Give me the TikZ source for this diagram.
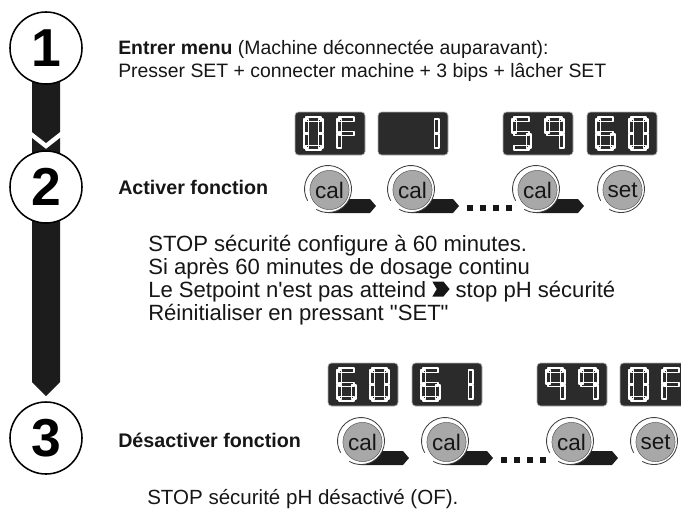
\documentclass[tikz,border=0pt]{standalone}
\usepackage{fontspec}
\defaultfontfeatures[\rmfamily]{}
\setmainfont{Liberation Sans}
\usetikzlibrary{calc}
\definecolor{lcdbg}{HTML}{2B2B2B}
\definecolor{btngray}{HTML}{A8A8A8}
\definecolor{bardark}{HTML}{1C1C1C}
\definecolor{ink}{HTML}{161616}

% segments of one lcd digit, top left at (0,0), y pointing down
\newcommand\sega{(2,0) rectangle (17,4.5)}
\newcommand\segb{(14.5,2) rectangle (19,16)}
\newcommand\segc{(14.5,17) rectangle (19,31)}
\newcommand\segd{(2,28.5) rectangle (17,33)}
\newcommand\sege{(0,17) rectangle (4.5,31)}
\newcommand\segf{(0,2) rectangle (4.5,16)}
\newcommand\segg{(2,14.25) rectangle (17,18.75)}
\newcommand\segx{(0,0)}

\newcommand\lcddigit[3]{\foreach \s in {#3} {\draw[segline,shift={(#1,#2)}] \csname seg\s\endcsname;}}
% box of two digits: x, y of top left, left digit, right digit
\newcommand\lcd[4]{%
  \draw[lcdbox] (#1,#2) rectangle ++(70,43);
  \lcddigit{#1+9}{#2+5}{#3}
  \lcddigit{#1+42}{#2+5}{#4}}
% push button with tail: name, centre x, centre y
\newcommand\calbtn[3]{%
  \fill[bardark] (#2+10,#3+10) -- (#2+42,#3+10) -- (#2+48,#3+17) -- (#2+42,#3+24) -- (#2,#3+24) -- cycle;
  \fill[white] (#2,#3) circle[radius=23.5];
  \draw[ring] (#2,#3) ++(150:23.5) arc[start angle=150,end angle=480,radius=23.5];
  \node[btn] (#1) at (#2+1.5,#3+1) {cal};}
\newcommand\tailarrow{\tikz[baseline=0pt]\fill[ink] (0,0.02em) -- (0.5em,0.02em) -- (0.78em,0.36em) -- (0.5em,0.7em) -- (0,0.7em) -- (0.2em,0.36em) -- cycle;}

\begin{document}
\begin{tikzpicture}[x=0.025cm,y=-0.025cm,line join=round,
  stepcircle/.style={circle,draw,line width=1.1pt,fill=white,minimum size=1.8cm,inner sep=0pt,
    font=\fontsize{38}{38}\selectfont\bfseries},
  txt/.style={anchor=base west,inner sep=0pt,text=ink,font=\fontsize{13.8}{17}\selectfont},
  label/.style={txt,font=\fontsize{14}{17}\selectfont\bfseries},
  note/.style={txt,font=\fontsize{15.7}{19}\selectfont},
  lcdbox/.style={fill=lcdbg,draw=gray!60,line width=0.5pt,rounded corners=2.5pt},
  segline/.style={draw=white,line width=0.75pt},
  ring/.style={draw=gray!50!black,line width=0.6pt},
  btn/.style={circle,fill=btngray,draw=gray!60!black,line width=0.3pt,minimum size=0.98cm,inner sep=0pt,
    text=ink,font=\fontsize{16}{16}\selectfont}]
\useasboundingbox (0,0) rectangle (681,514);

\coordinate (c1) at (46,48);
\coordinate (c2) at (46,187);
\coordinate (c3) at (46,438);

% arrow bars between the steps
\fill[bardark] ($(c1)+(-14,0)$) -- ++(28,0) -- ++(0,84) -- ++(-14,11) -- ++(-14,-11) -- cycle;
\fill[bardark] ($(c2)+(-14,-49)$) -- ++(14,11) -- ++(14,-11) -- ($(c3)+(14,-56)$) -- ++(-14,14) -- ++(-14,-14) -- cycle;

\node[stepcircle] (n1) at (c1) {1};
\node[stepcircle] (n2) at (c2) {2};
\node[stepcircle] (n3) at (c3) {3};

% step 1
\node[txt] (t1) at (118,54) {\textbf{Entrer menu} (Machine déconnectée auparavant):};
\node[txt] (t2) at (118,77) {Presser SET + connecter machine + 3 bips + lâcher SET};

% step 2
\node[label] (t3) at (118,194) {Activer fonction};
\lcd{295}{112}{a,b,c,d,e,f}{a,e,f,g}
\lcd{378}{112}{x}{b,c}
\lcd{503}{112}{a,f,g,c,d}{a,b,c,f,g}
\lcd{587}{112}{a,f,g,e,c,d}{a,b,c,d,e,f}
\calbtn{b1}{328}{189}
\calbtn{b2}{411}{189}
\calbtn{b3}{536}{189}
\fill[white] (621,189) circle[radius=23.5];
\draw[ring] (621,189) ++(150:23.5) arc[start angle=150,end angle=480,radius=23.5];
\node[btn] (b4) at (622.5,190) {set};
\foreach \k in {0,...,3} \fill[ink] (467+13*\k,205) rectangle ++(6,6);

\node[note] (p1) at (148,251) {STOP sécurité configure à 60 minutes.};
\node[note] (p2) at (148,274) {Si après 60 minutes de dosage continu};
\node[note] (p3) at (148,297) {Le Setpoint n'est pas atteind \tailarrow\ stop pH sécurité};
\node[note] (p4) at (148,320) {Réinitialiser en pressant "SET"};

% step 3
\node[label] (t4) at (118,447) {Désactiver fonction};
\lcd{328}{363}{a,f,g,e,c,d}{a,b,c,d,e,f}
\lcd{412}{363}{a,f,g,e,c,d}{b,c}
\lcd{537}{363}{a,b,c,f,g}{a,b,c,f,g}
\lcd{620}{363}{a,b,c,d,e,f}{a,e,f,g}
\calbtn{b5}{361}{441}
\calbtn{b6}{445}{441}
\calbtn{b7}{570}{441}
\fill[white] (654,441) circle[radius=23.5];
\draw[ring] (654,441) ++(150:23.5) arc[start angle=150,end angle=480,radius=23.5];
\node[btn] (b8) at (655.5,442) {set};
\foreach \k in {0,...,3} \fill[ink] (501+13*\k,457) rectangle ++(6,6);

\node[txt,font=\fontsize{14.6}{17}\selectfont] (p5) at (147,504) {STOP sécurité pH désactivé (OF).};
\end{tikzpicture}
\end{document}
